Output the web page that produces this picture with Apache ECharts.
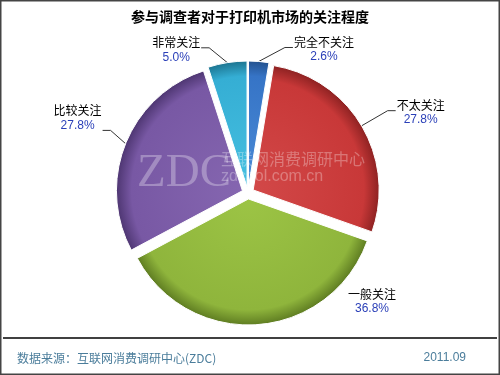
<!DOCTYPE html>
<html><head><meta charset="utf-8">
<script src="https://cdn.jsdelivr.net/npm/echarts@6/dist/echarts.min.js"></script>
<style>html,body{margin:0;padding:0;background:#fff}#c{width:500px;height:375px}</style>
</head><body><div id="c"></div>
<script>
const categories = ['完全不关注','不太关注','一般关注','比较关注','非常关注'];
const values = [2.6, 27.8, 36.8, 27.8, 5.0];
const colors = [['#4a8ad6','#3674c6','#24528f'],['#d24848','#c83838','#8e2222'],['#9cc445','#8fb53c','#5f7d22'],['#8566b0','#7858a4','#4e3672'],['#45bfe0','#35aed4','#1c7591']];
const title = '参与调查者对于打印机市场的关注程度';
const source = '数据来源：互联网消费调研中心(ZDC)';
const dateText = '2011.09';
// label nudges (dx, dy) relative to default outside placement, and leader attach height within label
const labelShift = [[21,2],[10,-6],[76,-37],[2,-20],[-12,1]];
const attachY = [11.5,11.5,11.5,25.5,11.5];

const chart = echarts.init(document.getElementById('c'));
const cx = 248, cy = 193, R = 126;
chart.setOption({
  animation:false,
  backgroundColor:'#fff',
  title:{text:title,left:'center',top:5,textStyle:{fontFamily:'Noto Sans CJK SC',fontSize:14,fontWeight:'bold',color:'#000'}},
  graphic:[
    {type:'rect',shape:{x:0.5,y:0.5,width:499,height:374},style:{fill:'none',stroke:'#444',lineWidth:2},z:0},
    {type:'line',shape:{x1:3,y1:338,x2:497,y2:338},style:{stroke:'#000',lineWidth:1.5}},
    {type:'text',left:17,top:352,style:{text:source,fill:'#4b7d9b',font:'12px "Noto Sans CJK SC"'}},
    {type:'text',right:34,top:352,style:{text:dateText,fill:'#4b7d9b',font:'12px "Liberation Sans"'}},
    {type:'text',x:137,y:150,z:100,style:{text:'ZDC',fill:'rgba(255,255,255,0.3)',font:'47px "Liberation Serif"'}},
    {type:'text',x:221,y:151,z:100,style:{text:'互联网消费调研中心',fill:'rgba(255,255,255,0.3)',font:'16px "Noto Sans CJK SC"'}},
    {type:'text',x:221,y:169,z:100,style:{text:'zdcpol.com.cn',fill:'rgba(255,255,255,0.3)',font:'16px "Liberation Sans"'}}
  ],
  series:[{
    type:'pie',
    center:[cx,cy],
    radius:[0,R],
    startAngle:90,
    clockwise:true,
    selectedMode:'multiple',
    selectedOffset:6,
    emphasis:{disabled:true},
    itemStyle:{borderColor:'#fff',borderWidth:1},
    label:{
      position:'outside',
      formatter:p=>'{n|'+p.name+'}\n{p|'+p.value.toFixed(1)+'%}',
      rich:{
        n:{fontFamily:'Noto Sans CJK SC',fontSize:12,color:'#000',align:'center',lineHeight:15},
        p:{fontFamily:'Liberation Sans',fontSize:12,color:'#2a3fb8',align:'center',lineHeight:15}
      }
    },
    labelLine:{length:14,length2:8,lineStyle:{color:'#333',width:1}},
    labelLayout:p=>{
      const i = p.dataIndex, dx = labelShift[i][0], dy = labelShift[i][1];
      const r = p.labelRect;
      const out = {dx:dx, dy:dy};
      if (p.labelLinePoints) {
        const p0 = p.labelLinePoints[0];
        const right = r.x + r.width/2 > cx;
        const ay = r.y + dy + attachY[i];
        const ex = right ? r.x + dx - 1 : r.x + r.width + dx + 1;
        const p1 = [right ? ex - 8 : ex + 8, ay];
        out.labelLinePoints = [p0, p1, [ex, ay]];
      }
      return out;
    },
    data:categories.map((c,i)=>({
      name:c,value:values[i],selected:true,
      itemStyle:{color:{type:'radial',x:cx,y:cy,r:R,global:true,colorStops:[{offset:0,color:colors[i][0]},{offset:0.88,color:colors[i][1]},{offset:1,color:colors[i][2]}]}},
      labelLine: i===2?{show:false}:undefined
    }))
  }]
});
</script></body></html>
